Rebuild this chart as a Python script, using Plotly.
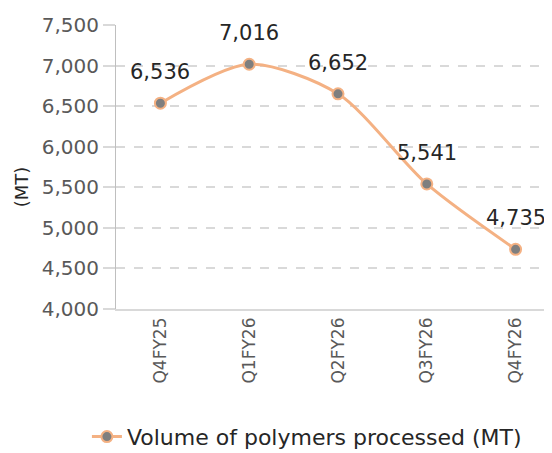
import plotly.graph_objects as go

categories = ["Q4FY25", "Q1FY26", "Q2FY26", "Q3FY26", "Q4FY26"]
volume = [6536, 7016, 6652, 5541, 4735]
series_name = "Volume of polymers processed (MT)"
y_ticks = [4000, 4500, 5000, 5500, 6000, 6500, 7000, 7500]

FONT = "DejaVu Sans"
LINE = "#F4B183"
MARK = "#7F7F7F"

fig = go.Figure()
fig.add_trace(go.Scatter(
    x=categories, y=volume, mode="lines+markers", name=series_name,
    line=dict(color=LINE, width=3, shape="spline", smoothing=0.8),
    marker=dict(size=11, color=MARK, line=dict(color=LINE, width=2)),
))

for c, v in zip(categories, volume):
    fig.add_annotation(x=c, y=v, text=f"{v:,}", showarrow=False, yshift=31,
                       font=dict(family=FONT, size=21, color="#262626"))

fig.add_annotation(xref="paper", yref="paper", x=-0.211, y=0.43, text="(MT)",
                   textangle=-90, showarrow=False, xanchor="center", yanchor="middle",
                   font=dict(family=FONT, size=18, color="#262626"))

fig.update_layout(
    width=552, height=453,
    margin=dict(l=108, r=0, t=17, b=152),
    paper_bgcolor="white", plot_bgcolor="white",
    font=dict(family=FONT, size=18, color="#595959"),
    showlegend=True,
    legend=dict(orientation="h", x=0.43, xanchor="center", y=-0.45, yanchor="middle",
                font=dict(family=FONT, size=22, color="#262626")),
    xaxis=dict(type="category", range=[-0.5, 4.5], showgrid=False,
               showline=True, linecolor="#D9D9D9", linewidth=1.5,
               tickangle=-90, ticks="", tickfont=dict(size=17, color="#595959")),
    yaxis=dict(range=[4000, 7500], tickvals=y_ticks, tickformat=",",
               showgrid=True, gridcolor="#D9D9D9", griddash="dash", gridwidth=1.5,
               showline=True, linecolor="#BFBFBF", linewidth=1,
               ticks="outside", ticklen=12, tickcolor="#D9D9D9", tickwidth=1.5,
               tickfont=dict(size=20, color="#595959"), zeroline=False),
)

fig.write_html("out.html")
